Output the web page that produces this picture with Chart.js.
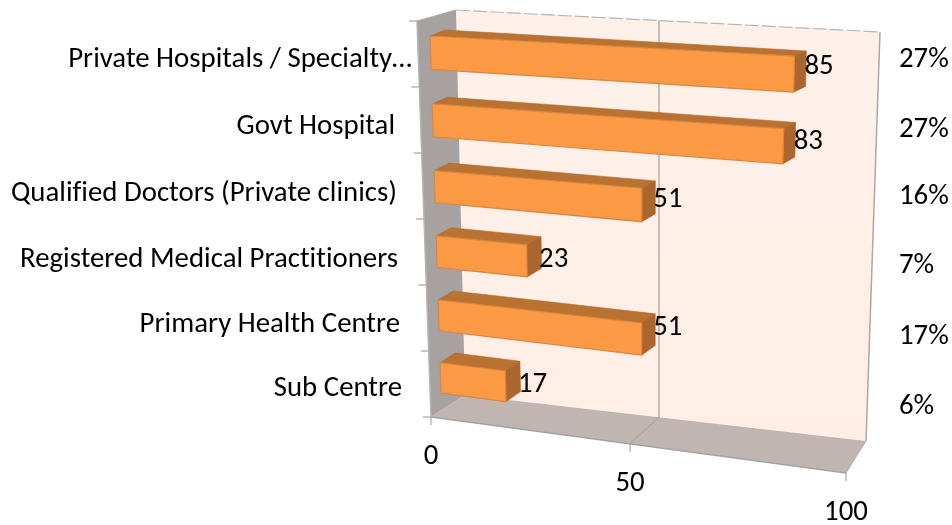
<!DOCTYPE html>
<html><head><meta charset="utf-8">
<style>html,body{margin:0;padding:0;background:#fff}canvas{display:block}</style>
<script src="https://cdn.jsdelivr.net/npm/chart.js@4"></script></head>
<body><canvas id="c" width="952" height="525"></canvas>
<script>
const categories=["Private Hospitals / Specialty…","Govt Hospital ","Qualified Doctors (Private clinics)","Registered Medical Practitioners","Primary Health Centre","Sub Centre"];
const values=[85,83,51,23,51,17];
const shares=["27%","27%","16%","7%","17%","6%"];
const xTicks=[0,50,100];

// layout of the picture's 3-D projection
const FONT='28.8px Carlito, Lato, sans-serif';
const catRight=[412,395,397,398,400,402], catY=[60,127,194,260,325,389];
const shareX=899, shareY=[60,130,197,266,337,407];
const valueDy=[-2,2,2,7,-2,8];
const barFront=[[430,36],[865,60],[852,448],[441,393]];
const barBack=[[445,30],[876,55],[863,437],[456,383]];
const wallBack=[[456,10],[880,32],[866,441],[465,395]];
const wallLeft=[[417,21],[456,10],[465,395],[431,417]];
const floorQ=[[431,417],[846,473],[866,441],[465,395]];
const midWallTop=.4788, midWallBottom=.4838, midFloorFront=.4795;

function homography(q){
 const [x0,y0]=q[0],[x1,y1]=q[1],[x2,y2]=q[2],[x3,y3]=q[3];
 const dx1=x1-x2,dx2=x3-x2,sx=x0-x1+x2-x3,dy1=y1-y2,dy2=y3-y2,sy=y0-y1+y2-y3;
 const den=dx1*dy2-dx2*dy1,g=(sx*dy2-dx2*sy)/den,h=(dx1*sy-sx*dy1)/den;
 const a=x1-x0+g*x1,b=x3-x0+h*x3,d=y1-y0+g*y1,e=y3-y0+h*y3;
 return (s,t)=>{const w=g*s+h*t+1;return [(a*s+b*t+x0)/w,(d*s+e*t+y0)/w];};
}
// point on a foreshortened edge: m is where the axis midpoint falls along the edge
function onEdge(p,q,s,m){
 const k=m/(1-m),t=k*s/(1+(k-1)*s);
 return [p[0]+(q[0]-p[0])*t,p[1]+(q[1]-p[1])*t];
}
function poly(ctx,pts,fill,stroke,lw){
 ctx.beginPath();pts.forEach((p,i)=>i?ctx.lineTo(p[0],p[1]):ctx.moveTo(p[0],p[1]));ctx.closePath();
 if(fill){ctx.fillStyle=fill;ctx.fill();}
 if(stroke){ctx.strokeStyle=stroke;ctx.lineWidth=lw||1;ctx.stroke();}
}
function line(ctx,a,b,color,w,dash){
 ctx.save();ctx.strokeStyle=color;ctx.lineWidth=w||1;ctx.setLineDash(dash||[]);
 ctx.beginPath();ctx.moveTo(a[0],a[1]);ctx.lineTo(b[0],b[1]);ctx.stroke();ctx.restore();
}
const scene3d={id:'scene3d',
 beforeDatasetsDraw(chart){
  const ctx=chart.ctx,xs=chart.scales.x,meta=chart.getDatasetMeta(0),bars=meta.data;
  const x0=xs.getPixelForValue(0),x1=xs.getPixelForValue(100);
  const hT=bars[0].height,top=bars[0].y-hT/2,bot=bars[bars.length-1].y+hT/2;
  const S=px=>(px-x0)/(x1-x0),T=py=>(py-top)/(bot-top);
  const F=homography(barFront),B=homography(barBack);
  const front=v=>onEdge(floorQ[0],floorQ[1],S(xs.getPixelForValue(v)),midFloorFront);
  ctx.save();
  const g=ctx.createLinearGradient(0,10,0,440);g.addColorStop(0,'#fdf1ea');g.addColorStop(1,'#ffeee5');
  poly(ctx,wallBack,g);
  poly(ctx,wallLeft,'#a7a2a0');
  poly(ctx,floorQ,'#c1b5b1');
  // gridline through value 50 and frame
  xTicks.forEach(v=>{
   const s=S(xs.getPixelForValue(v)),p=front(v);
   if(v===50){
    const a=onEdge(wallBack[0],wallBack[1],s,midWallTop),b=onEdge(wallBack[3],wallBack[2],s,midWallBottom);
    line(ctx,a,b,'#b3b0ae',1.5);line(ctx,b,p,'#aaa6a3',1.2);
   }
   line(ctx,p,[p[0],p[1]+8],'#b9b9b9',1.5);
  });
  line(ctx,wallBack[0],wallBack[1],'#b5b5b5',1.2,[14,3]);
  line(ctx,wallBack[1],wallBack[2],'#a9a9a9',1.5);
  line(ctx,wallLeft[0],wallLeft[1],'#a9a9a9',1);
  line(ctx,wallLeft[0],wallLeft[3],'#b5b5b5',1.5);
  line(ctx,floorQ[0],floorQ[1],'#a3a3a3',1.5);
  line(ctx,floorQ[1],floorQ[2],'#b0aaa8',1);
  for(let i=0;i<=6;i++){
   const k=i/6,p=[wallLeft[0][0]+(wallLeft[3][0]-wallLeft[0][0])*k,wallLeft[0][1]+(wallLeft[3][1]-wallLeft[0][1])*k];
   line(ctx,[p[0]-8,p[1]],p,'#b9b9b9',1.5);
  }
  // bars: every face comes from the bar element the library laid out
  bars.forEach(b=>{
   const sA=S(b.base),sB=S(b.x),tA=T(b.y-b.height/2),tB=T(b.y+b.height/2);
   poly(ctx,[F(sA,tA),B(sA,tA),B(sB,tA),F(sB,tA)],'#b97232','#b06a2e',.6);
   poly(ctx,[F(sB,tA),B(sB,tA),B(sB,tB),F(sB,tB)],'#a9662f','#a9662f',.6);
   poly(ctx,[F(sA,tA),F(sB,tA),F(sB,tB),F(sA,tB)],'#fb9945','#d9873f',1.2);
  });
  // labels
  ctx.font=FONT;ctx.fillStyle='#000';ctx.textBaseline='middle';
  if('letterSpacing' in ctx)ctx.letterSpacing='0.01px';
  ctx.textAlign='right';
  categories.forEach((c,i)=>ctx.fillText(c.trim(),catRight[i],catY[i]));
  ctx.textAlign='left';
  bars.forEach((b,i)=>{
   const sB=S(b.x),a=B(sB,T(b.y-b.height/2)),c=B(sB,T(b.y+b.height/2));
   ctx.fillText(String(values[i]),a[0]-2,(a[1]+c[1])/2+valueDy[i]);
  });
  shares.forEach((t,i)=>ctx.fillText(t,shareX,shareY[i]));
  ctx.textAlign='center';
  xTicks.forEach(v=>{const p=front(v);ctx.fillText(String(v),p[0],p[1]+40);});
  ctx.restore();
  return false;
 }
};
new Chart(document.getElementById('c'),{
 type:'bar',
 data:{labels:categories,datasets:[{data:values,backgroundColor:'#fb9945',barPercentage:.98,categoryPercentage:.5}]},
 options:{indexAxis:'y',responsive:false,animation:false,
  layout:{padding:{left:430,right:92,top:20,bottom:120}},
  plugins:{legend:{display:false},tooltip:{enabled:false}},
  scales:{x:{display:false,min:0,max:100},y:{display:false}}},
 plugins:[scene3d]
});
</script></body></html>
